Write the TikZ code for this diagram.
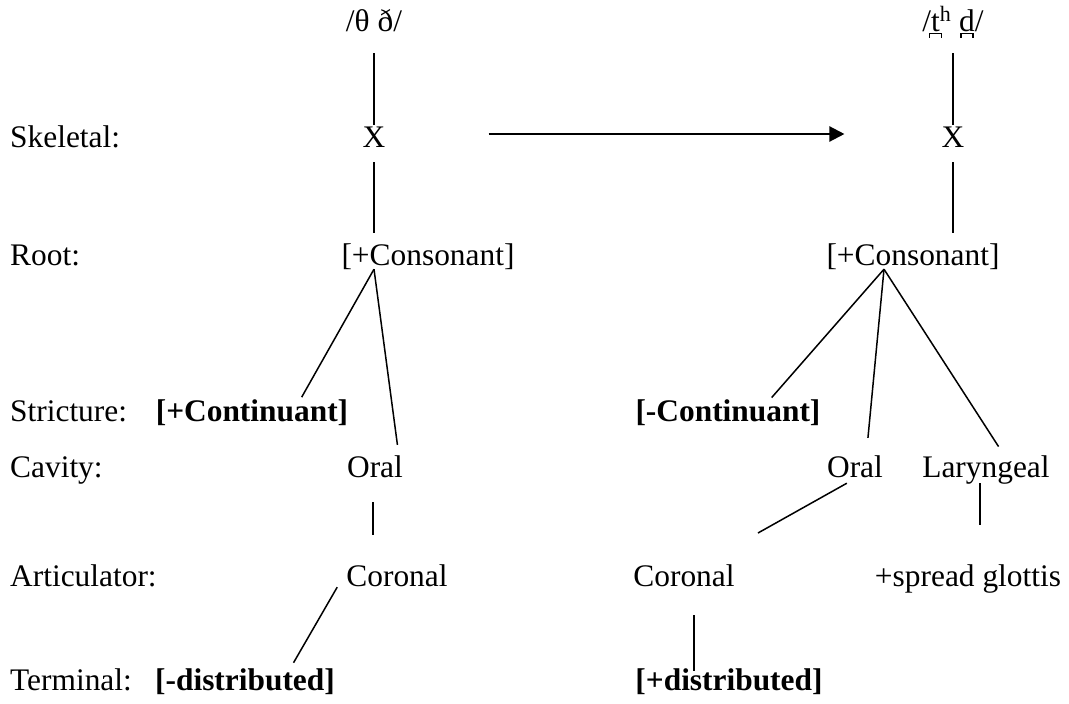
\documentclass[tikz,border=0pt]{standalone}
\usepackage{fontspec}
\setmainfont{Liberation Serif}
\usetikzlibrary{arrows.meta,calc}
\newcommand\bridgeshape{\rule[-0.21em]{0.05em}{0.16em}\rule[-0.1em]{0.32em}{0.05em}\rule[-0.21em]{0.05em}{0.16em}}
\newcommand\dentl[1]{\leavevmode\setbox0\hbox{#1}\rlap{\hbox to\wd0{\hss\bridgeshape\hss}}\box0}
\begin{document}
\begin{tikzpicture}[x=1pt,y=-1pt,
  txt/.style={inner sep=0pt, text height=21pt, text depth=6pt, font=\fontsize{31.4}{38}\selectfont},
  lab/.style={txt, anchor=base west},
  seg/.style={txt, anchor=base},
  bseg/.style={seg, font=\fontsize{31.4}{38}\selectfont\bfseries},
  conn/.style={line width=1.5pt},
  arr/.style={line width=2.2pt, -{Triangle[length=15pt,width=15pt]}}]
\useasboundingbox (0,0) rectangle (1069,704);
% row labels
\node[lab] (lSk) at (10,147) {Skeletal:};
\node[lab] (lRo) at (10,265) {Root:};
\node[lab] (lSt) at (10,421) {Stricture:};
\node[lab] (lCa) at (10,477) {Cavity:};
\node[lab] (lAr) at (10,586) {Articulator:};
\node[lab] (lTe) at (10,690) {Terminal:};
% left tree
\node[seg] (thL) at (374,31) {/θ ð/};
\node[seg] (XL) at (374,147) {X};
\node[seg] (consL) at (428,265) {[+Consonant]};
\node[bseg] (contL) at (252,421) {[+Continuant]};
\node[seg] (oralL) at (375,477) {Oral};
\node[seg] (corL) at (397,586) {Coronal};
\node[bseg] (distL) at (245,690) {[-distributed]};
% right tree
\node[seg] (thR) at (953,31) {/\dentl{t}\textsuperscript{h} \dentl{d}/};
\node[seg] (XR) at (953,147) {X};
\node[seg] (consR) at (913,265) {[+Consonant]};
\node[bseg] (contR) at (728,421) {[-Continuant]};
\node[seg] (oralR) at (855,477) {Oral};
\node[seg] (larR) at (986,477) {Laryngeal};
\node[seg] (corR) at (684,586) {Coronal};
\node[seg] (sprR) at (968,586) {+spread glottis};
\node[bseg] (distR) at (729,690) {[+distributed]};
% left connectors
\coordinate (apL) at ($(XL.south |- consL.south)+(0,-2)$);
\draw[conn, shorten <=16pt, shorten >=1pt] (thL.south) -- (XL.north);
\draw[conn, shorten <=9pt, shorten >=11pt] (XL.south) -- (XL.south |- consL.north);
\draw[conn, shorten >=3pt] (apL) -- ($(contL.north)!0.5!(contL.north east)$);
\draw[conn, shorten >=11pt] (apL) -- ($(oralL.north)!0.85!(oralL.north east)$);
\draw[conn, shorten <=19pt, shorten >=30pt] ($(oralL.south)+(-2,0)$) -- ($(oralL.south |- corL.north)+(-2,0)$);
\draw[conn, shorten <=10pt, shorten >=7pt] ($(corL.west)+(-4,0)$) -- ($(distL.north)!0.5!(distL.north east)$);
% right connectors
\coordinate (apR) at ($(consR.south)+(-29,-2)$);
\draw[conn, shorten <=16pt, shorten >=1pt] (thR.south) -- (XR.north);
\draw[conn, shorten <=9pt, shorten >=11pt] (XR.south) -- (XR.south |- consR.north);
\draw[conn, shorten >=3pt] (apR) -- ($(contR.north)!0.45!(contR.north east)$);
\draw[conn, shorten >=18pt] (apR) -- ($(oralR.north)!0.4!(oralR.north east)$);
\draw[conn, shorten >=11pt] (apR) -- ($(larR.north)!0.29!(larR.north east)$);
\draw[conn, shorten >=65pt] ($(oralR.south west)!0.71!(oralR.south)$) -- ($(corR.north)!0.34!(corR.north east)$);
\draw[conn, shorten >=40pt] ($(larR.south)+(-6,0)$) -- ($(larR.south |- sprR.north)+(-6,0)$);
\draw[conn, shorten <=23pt, shorten >=19pt] ($(corR.south)+(10,0)$) -- ($(corR.south |- distR.base)+(10,0)$);
% arrow
\draw[arr, shorten <=103pt, shorten >=97pt] ($(XL.east)+(0,-5.5)$) -- ($(XR.west)+(0,-5.5)$);
\end{tikzpicture}
\end{document}
